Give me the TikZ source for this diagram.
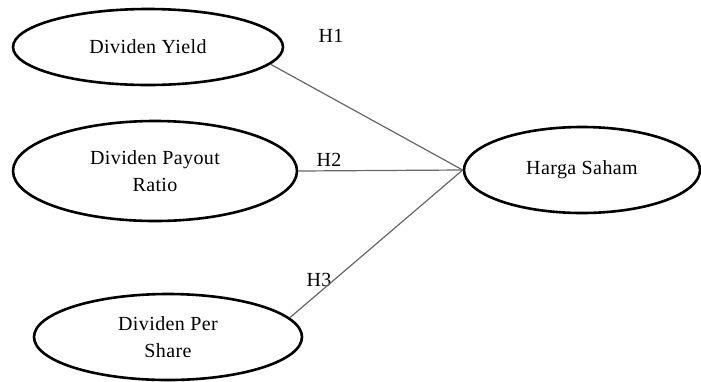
\documentclass[tikz,border=0pt]{standalone}
\usepackage{fontspec}
\setmainfont{Liberation Serif}[LetterSpace=2]
\usetikzlibrary{shapes.geometric}
\begin{document}
\begin{tikzpicture}[x=1pt, y=-1pt, every node/.style={font=\fontsize{20}{27}\selectfont},
    var/.style={ellipse, draw, line width=2.6pt, inner sep=0pt, align=center},
    hyp/.style={draw=black!60, line width=1.2pt}]{
    \useasboundingbox (0,0) rectangle (701,381);
    \node [var, minimum width=270, minimum height=76] (X1) at (148,47) {Dividen Yield};
    \node [var, minimum width=284, minimum height=100] (X2) at (155,171) {Dividen Payout\\Ratio};
    \node [var, minimum width=268, minimum height=86] (X3) at (168,337) {Dividen Per\\Share};
    \node [var, minimum width=236, minimum height=86] (Y) at (582,170) {Harga Saham};

    \node (H1) at (331,36) {H1};
    \node (H2) at (329,160) {H2};
    \node (H3) at (319,280) {H3};

    \path [hyp](X1.-8) edge (Y.west);
    \path [hyp](X2.east) edge (Y.west);
    \path [hyp](X3.9) edge (Y.west);
    }
\end{tikzpicture}
\end{document}
